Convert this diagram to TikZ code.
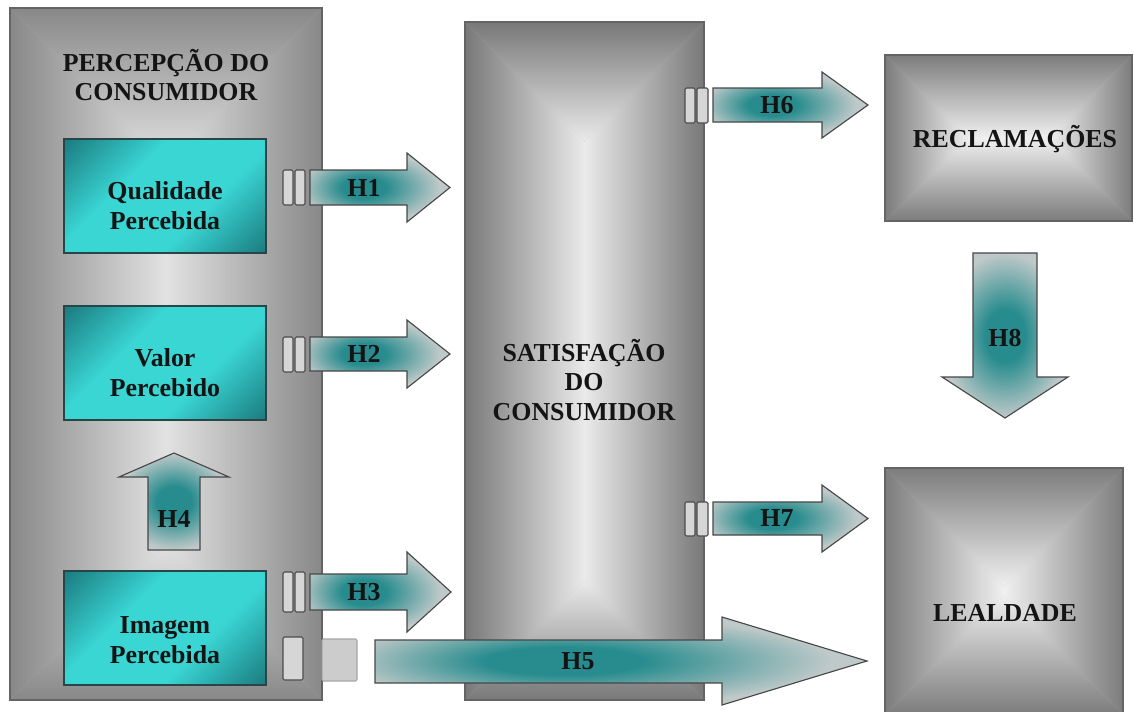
\documentclass[tikz,border=0pt]{standalone}
\usepackage{fontspec}
\setmainfont{Liberation Serif}

\definecolor{leftedge}{RGB}{136,136,136}
\definecolor{leftmid}{RGB}{226,226,226}
\definecolor{midedge}{RGB}{120,120,120}
\definecolor{midmid}{RGB}{234,234,234}
\definecolor{boxedge}{RGB}{124,124,124}
\definecolor{boxmid}{RGB}{240,240,240}
\definecolor{panelline}{RGB}{100,100,100}
\definecolor{tealdark}{RGB}{28,124,128}
\definecolor{tealbright}{RGB}{58,214,212}
\definecolor{tealline}{RGB}{40,70,72}
\definecolor{arrowteal}{RGB}{40,140,142}
\definecolor{arrowgray}{RGB}{192,201,201}
\definecolor{tabfill}{RGB}{214,214,214}

\pgfdeclareverticalshading{tealdiag}{100bp}{color(0bp)=(tealdark); color(15bp)=(tealdark); color(38bp)=(tealbright); color(62bp)=(tealbright); color(85bp)=(tealdark); color(100bp)=(tealdark)}
\pgfdeclareradialshading{arrowglow}{\pgfpoint{0bp}{0bp}}{color(0bp)=(arrowteal); color(8bp)=(arrowteal); color(25bp)=(arrowgray); color(50bp)=(arrowgray)}
\pgfdeclareradialshading{arrowglowleft}{\pgfpoint{-7bp}{0bp}}{color(0bp)=(arrowteal); color(8bp)=(arrowteal); color(25bp)=(arrowgray); color(50bp)=(arrowgray)}

% grey panel, dark at the border and light towards the middle
\newcommand{\shadedpanel}[6]{%
  \pgfmathsetmacro{\pw}{#3-#1}%
  \pgfmathsetmacro{\ph}{#4-#2}%
  \pgfmathsetmacro{\pcx}{(#1+#3)/2}%
  \pgfmathsetmacro{\pcy}{(#2+#4)/2}%
  \ifdim\pw pt<\ph pt
    \pgfmathsetmacro{\pay}{#2+\pw/2}\pgfmathsetmacro{\pby}{#4-\pw/2}%
    \coordinate (pA) at (\pcx,\pay); \coordinate (pB) at (\pcx,\pby);
    \coordinate (pTR) at (pA); \coordinate (pBL) at (pB);
  \else
    \pgfmathsetmacro{\pax}{#1+\ph/2}\pgfmathsetmacro{\pbx}{#3-\ph/2}%
    \coordinate (pA) at (\pax,\pcy); \coordinate (pB) at (\pbx,\pcy);
    \coordinate (pTR) at (pB); \coordinate (pBL) at (pA);
  \fi
  \fill[#5!45!#6] (#1,#2) rectangle (#3,#4);
  \shade[top color=#5, bottom color=#6] (#1,#2) -- (#3,#2) -- (pTR) -- (pA) -- cycle;
  \shade[left color=#6, right color=#5] (#3,#2) -- (#3,#4) -- (pB) -- (pTR) -- cycle;
  \shade[top color=#6, bottom color=#5] (#3,#4) -- (#1,#4) -- (pBL) -- (pB) -- cycle;
  \shade[left color=#5, right color=#6] (#1,#4) -- (#1,#2) -- (pA) -- (pBL) -- cycle;
  \draw[panel line] (#1,#2) rectangle (#3,#4);
}

\tikzset{
  box text/.style={font=\fontsize{18.4}{21.3}\selectfont\bfseries, text=black!92, align=center},
  teal box/.style={draw=tealline, line width=1pt, shade, shading=tealdiag, shading angle=45,
    minimum width=5.05cm, minimum height=2.85cm, inner sep=0pt},
  block arrow/.style={draw=black!72, line width=0.8pt, shade, shading=arrowglowleft},
  up arrow/.style={block arrow, shading=arrowglow},
  tab/.style={draw=black!70, fill=tabfill, line width=0.8pt, rounded corners=1pt},
  panel line/.style={draw=panelline, line width=0.8pt}
}

\begin{document}
\begin{tikzpicture}[x=0.025cm, y=-0.025cm]
  \clip (0,0) rectangle (1134,712);

  % the four grey panels
  \shadedpanel{10}{8}{322}{700}{leftedge}{leftmid}
  \shadedpanel{465}{22}{704}{700}{midedge}{midmid}
  \shadedpanel{885}{55}{1132}{221}{boxedge}{boxmid}
  \shadedpanel{885}{468}{1123}{714}{boxedge}{boxmid}

  \node[box text] (percepcao) at (166,75) {PERCEPÇÃO DO\\CONSUMIDOR};
  \node[box text] (satisfacao) at (584,380) {SATISFAÇÃO\\DO\\CONSUMIDOR};
  \node[box text] (reclamacoes) at (1015,139) {RECLAMAÇÕES};
  \node[box text] (lealdade) at (1005,613) {LEALDADE};

  % teal boxes in the left panel
  \node[teal box] (qualidade) at (165,196) {};
  \node[teal box] (valor) at (165,363) {};
  \node[teal box] (imagem) at (165,628) {};
  \node[box text] (qualidade text) at ([yshift=-0.25cm]qualidade.center) {Qualidade\\Percebida};
  \node[box text] (valor text) at ([yshift=-0.25cm]valor.center) {Valor\\Percebido};
  \node[box text] (imagem text) at ([yshift=-0.3cm]imagem.center) {Imagem\\Percebida};

  % H4, upwards
  \shadedraw[up arrow] (148,550) -- (148,477) -- (119,477) -- (174,453) -- (229,477) -- (200,477) -- (200,550) -- cycle;
  \node[box text] (h4) at (174,519) {H4};

  % H1, H2, H3 into the middle panel
  \shadedraw[block arrow] (310,170) -- (407,170) -- (407,153) -- (450,187.5) -- (407,222) -- (407,205) -- (310,205) -- cycle;
  \draw[tab] (283,170) rectangle (293,205);
  \draw[tab] (295,170) rectangle (305,205);
  \node[box text] (h1) at (364,187.5) {H1};

  \shadedraw[block arrow] (310,337) -- (407,337) -- (407,320) -- (450,354) -- (407,388) -- (407,371) -- (310,371) -- cycle;
  \draw[tab] (283,337) rectangle (293,372);
  \draw[tab] (295,337) rectangle (305,372);
  \node[box text] (h2) at (364,354) {H2};

  \shadedraw[block arrow] (310,574) -- (407,574) -- (407,552) -- (451,592) -- (407,632) -- (407,610) -- (310,610) -- cycle;
  \draw[tab] (283,572) rectangle (293,612);
  \draw[tab] (295,572) rectangle (305,612);
  \node[box text] (h3) at (364,592) {H3};

  % H5, long one to lealdade
  \shadedraw[block arrow] (375,640) -- (722,640) -- (722,617) -- (867,661) -- (722,705) -- (722,683) -- (375,683) -- cycle;
  \draw[tab] (283,637) rectangle (303,680);
  \draw[tab, draw=black!35, fill=black!20] (322,639) rectangle (357,681);
  \node[box text] (h5) at (578,661) {H5};

  % H6, H7 out of the middle panel
  \shadedraw[block arrow] (713,88) -- (822,88) -- (822,72) -- (868,105) -- (822,138) -- (822,122) -- (713,122) -- cycle;
  \draw[tab] (685,88) rectangle (695,123);
  \draw[tab] (697,88) rectangle (708,123);
  \node[box text] (h6) at (777,105) {H6};

  \shadedraw[block arrow] (713,502) -- (822,502) -- (822,485) -- (868,518.5) -- (822,552) -- (822,535) -- (713,535) -- cycle;
  \draw[tab] (685,502) rectangle (695,536);
  \draw[tab] (697,502) rectangle (708,536);
  \node[box text] (h7) at (777,518.5) {H7};

  % H8, downwards
  \shadedraw[up arrow] (973,253) -- (1037,253) -- (1037,377) -- (1068,377) -- (1005,418) -- (942,377) -- (973,377) -- cycle;
  \node[box text] (h8) at (1005,338) {H8};
\end{tikzpicture}
\end{document}
